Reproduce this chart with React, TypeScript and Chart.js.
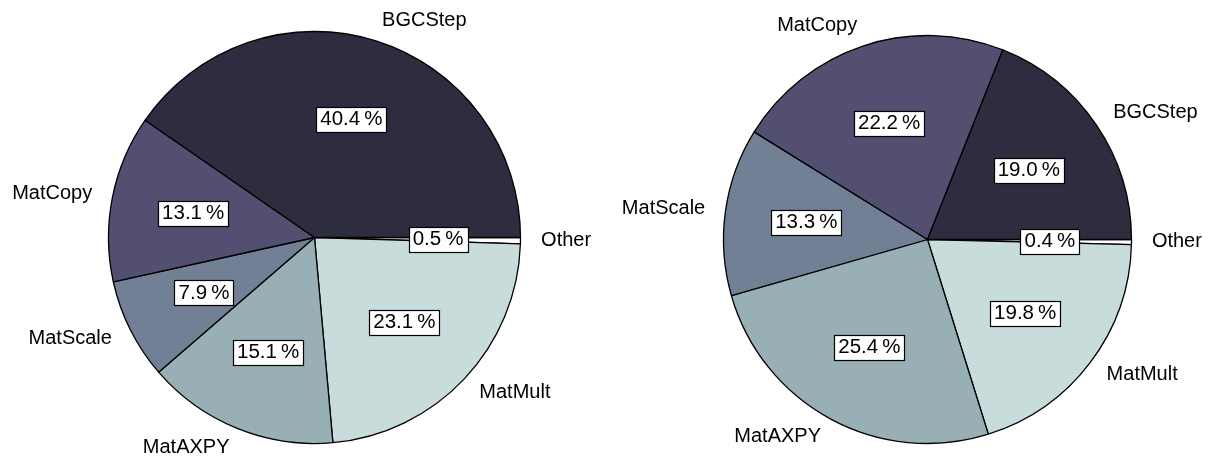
import React, { useEffect, useRef } from 'react';
import { Chart, registerables } from 'chart.js';

Chart.register(...registerables);

// ---- data ----
const categories = ['BGCStep', 'MatCopy', 'MatScale', 'MatAXPY', 'MatMult', 'Other'];
const leftValues = [40.4, 13.1, 7.9, 15.1, 23.1, 0.5];
const rightValues = [19.0, 22.2, 13.3, 25.4, 19.8, 0.4];
const sliceColors = ['#2e2d40', '#524f70', '#718094', '#98b0b5', '#c8dcdb', '#ffffff'];

const FONT = "20px 'Liberation Sans', Arial, Helvetica, sans-serif";
const PCT_FONT = "20.5px 'Liberation Sans', Arial, Helvetica, sans-serif";
const W = 606;
const H = 458;

const labelPlugin = {
  id: 'pieLabels',
  afterDatasetsDraw(chart: any) {
    const ctx = chart.ctx as CanvasRenderingContext2D;
    const meta = chart.getDatasetMeta(0);
    const labels = chart.data.labels as string[];
    const data = chart.data.datasets[0].data as number[];
    ctx.save();
    ctx.lineWidth = 1.2;
    ctx.strokeStyle = '#000';
    meta.data.forEach((arc: any, i: number) => {
      const { x, y, startAngle, endAngle, outerRadius } = arc.getProps(
        ['x', 'y', 'startAngle', 'endAngle', 'outerRadius'],
        true
      );
      const mid = (startAngle + endAngle) / 2;
      const c = Math.cos(mid);
      const s = Math.sin(mid);
      // category label at 1.1 r
      ctx.font = FONT;
      ctx.fillStyle = '#000';
      ctx.textBaseline = 'middle';
      ctx.textAlign = c >= 0 ? 'left' : 'right';
      ctx.fillText(labels[i], x + c * outerRadius * 1.1, y + s * outerRadius * 1.1 - 0.5);
      // percentage box at 0.6 r
      ctx.font = PCT_FONT;
      const txt = data[i].toFixed(1) + '\u2009%';
      const px = x + c * outerRadius * 0.6;
      const py = y + s * outerRadius * 0.6;
      const tw = ctx.measureText(txt).width;
      const bw = Math.round(tw + 8);
      const bh = 25;
      const bx = Math.round(px - bw / 2) + 0.5;
      const by = Math.round(py - bh / 2) + 0.5;
      ctx.fillStyle = '#ffffff';
      ctx.fillRect(bx, by, bw, bh);
      ctx.strokeRect(bx, by, bw, bh);
      ctx.fillStyle = '#000';
      ctx.textAlign = 'center';
      ctx.fillText(txt, px, py);
    });
    ctx.restore();
  },
};

function PieCanvas(props: {
  values: number[];
  left: number;
  cx: number;
  cy: number;
  r: number;
}) {
  const ref = useRef<HTMLCanvasElement>(null);
  useEffect(() => {
    if (!ref.current) return;
    const half = props.r + 8;
    const labelsRev = [...categories].reverse();
    const valuesRev = [...props.values].reverse();
    const colorsRev = [...sliceColors].reverse();
    const chart = new Chart(ref.current, {
      type: 'pie',
      data: {
        labels: labelsRev,
        datasets: [
          {
            data: valuesRev,
            backgroundColor: colorsRev,
            borderColor: '#000000',
            borderWidth: 1.3,
            hoverBorderWidth: 1.3,
            radius: props.r,
          } as any,
        ],
      },
      options: {
        responsive: false,
        animation: false,
        rotation: 90,
        layout: {
          padding: {
            left: props.cx - half,
            right: W - (props.cx + half),
            top: props.cy - half,
            bottom: H - (props.cy + half),
          },
        },
        plugins: {
          legend: { display: false },
          tooltip: { enabled: false },
        },
        events: [],
      },
      plugins: [labelPlugin],
    });
    return () => chart.destroy();
  }, []);
  return (
    <canvas
      ref={ref}
      width={W}
      height={H}
      style={{ position: 'absolute', left: props.left, top: 0, width: W, height: H }}
    />
  );
}

export default function App() {
  return (
    <div
      style={{
        position: 'absolute',
        left: 0,
        top: 0,
        width: 1212,
        height: 458,
        background: '#ffffff',
        overflow: 'hidden',
      }}
    >
      <PieCanvas values={leftValues} left={0} cx={314.5} cy={237.5} r={206} />
      <PieCanvas values={rightValues} left={606} cx={927.5 - 606} cy={239.5} r={204} />
    </div>
  );
}
